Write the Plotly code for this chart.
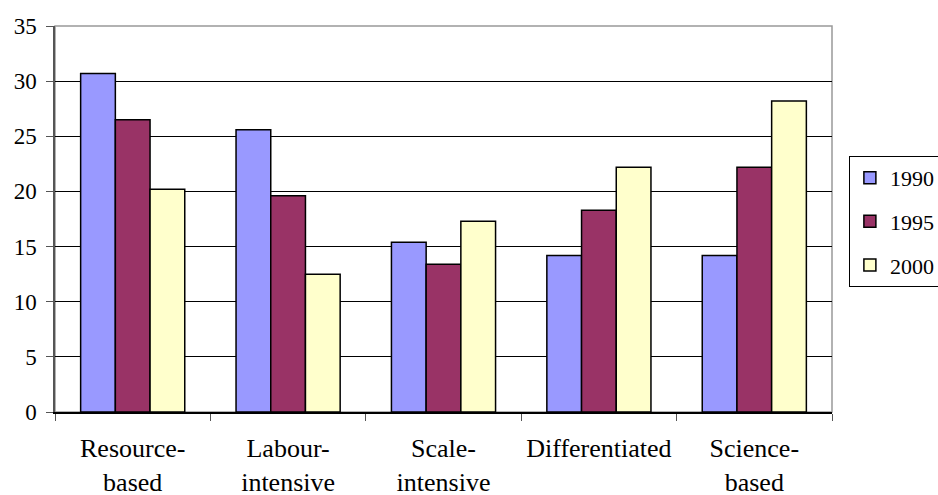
import plotly.graph_objects as go

categories = ["Resource-<br>based", "Labour-<br>intensive", "Scale-<br>intensive", "Differentiated", "Science-<br>based"]
years = ["1990", "1995", "2000"]
v1990 = [30.7, 25.6, 15.4, 14.2, 14.2]
v1995 = [26.5, 19.6, 13.4, 18.3, 22.2]
v2000 = [20.2, 12.5, 17.3, 22.2, 28.2]
colors = ["#9999FF", "#993366", "#FFFFCC"]
y_ticks = [0, 5, 10, 15, 20, 25, 30, 35]

FONT = "Liberation Serif"

fig = go.Figure()
for name, vals, col in zip(years, [v1990, v1995, v2000], colors):
    fig.add_trace(go.Bar(
        x=categories, y=vals, name=name, legendgroup=name,
        marker=dict(color=col, line=dict(color="black", width=1.5)),
    ))

fig.update_layout(
    width=938, height=495, autosize=False,
    margin=dict(l=55, r=106, t=26, b=83),
    paper_bgcolor="white", plot_bgcolor="white",
    barmode="group", bargap=0.33, bargroupgap=0,
    font=dict(family=FONT, size=21, color="black"),
    legend=dict(
        xref="container", yref="container",
        x=0.905, y=0.685, xanchor="left", yanchor="top",
        bordercolor="black", borderwidth=1, bgcolor="white",
        font=dict(family=FONT, size=22, color="black"),
        tracegroupgap=12,
    ),
    showlegend=True,
    shapes=[dict(type="rect", xref="paper", yref="paper", x0=0, x1=1, y0=0, y1=1,
                 line=dict(color="#999999", width=1.5), layer="below")],
)
fig.update_xaxes(
    showline=True, linecolor="black", linewidth=1.5, automargin=False,
    ticks="outside", ticklen=7, tickcolor="#555555", tickson="boundaries",
    tickfont=dict(family=FONT, size=26), showgrid=False, ticklabelstandoff=12,
)
fig.update_yaxes(
    range=[0, 35], tickvals=y_ticks, automargin=False,
    showline=True, linecolor="#555555", linewidth=1.5,
    ticks="outside", ticklen=7, tickcolor="#555555",
    showgrid=True, gridcolor="black", gridwidth=1,
    zeroline=False, tickfont=dict(family=FONT, size=23), ticklabelstandoff=5,
)

post = (
    "document.body.style.margin='0';document.body.style.overflow='hidden';"
    "var st=document.createElement('style');"
    "st.textContent=\"body, svg, .main-svg text, .legendtext, .xtick text, .ytick text"
    "{font-family:'Liberation Serif','Times New Roman',Times,serif !important;}\";"
    "document.head.appendChild(st);"
    "var gd=document.getElementsByClassName('plotly-graph-div')[0];"
    "Plotly.relayout(gd,{});"
    "if(document.fonts){document.fonts.ready.then(function(){Plotly.relayout(gd,{});});}"
)
fig.write_html(
    "out.html",
    config={"displayModeBar": False},
    post_script=post,
)
